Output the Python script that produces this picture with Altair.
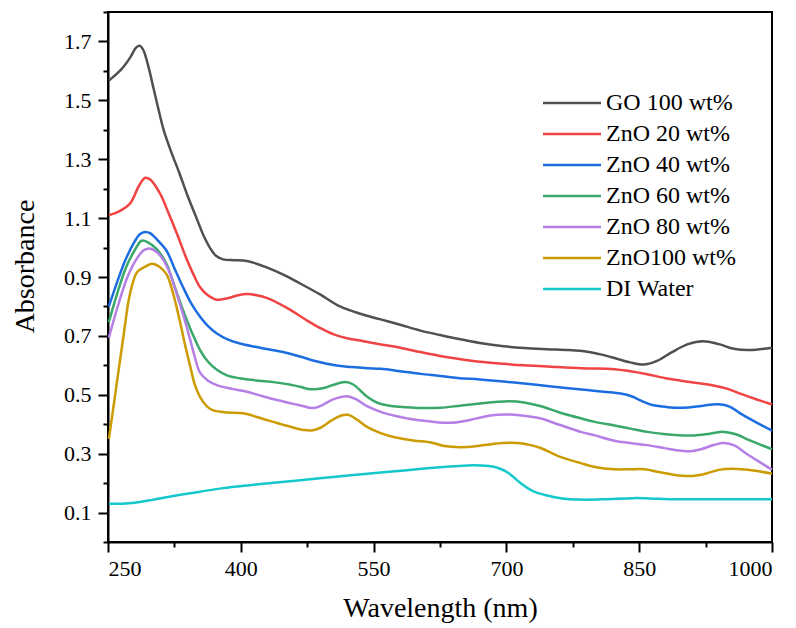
import altair as alt
import pandas as pd

# UV-Vis absorbance spectra of GO / ZnO nanofluids and the DI water base fluid
series_names = ["GO 100 wt%", "ZnO 20 wt%", "ZnO 40 wt%", "ZnO 60 wt%",
                "ZnO 80 wt%", "ZnO100 wt%", "DI Water"]
series_colors = ["#505050", "#f04444", "#1c6ee0", "#3aa86a",
                 "#b57fe6", "#cc9b00", "#14c8cc"]

go_wl = [251, 265, 275, 282, 286, 290, 296, 301, 307, 313, 322, 331, 340, 350,
         358, 365, 372, 380, 392, 403, 415, 430, 448, 467, 490, 512, 535, 558,
         580, 603, 625, 645, 670, 697, 720, 746, 770, 788, 805, 822, 840, 856,
         870, 886, 905, 922, 940, 957, 975, 1000]
go_abs = [1.567, 1.605, 1.645, 1.68, 1.685, 1.67, 1.61, 1.546, 1.47, 1.398,
          1.32, 1.25, 1.175, 1.10, 1.04, 1.0, 0.972, 0.96, 0.957, 0.956, 0.948,
          0.932, 0.908, 0.878, 0.84, 0.80, 0.775, 0.756, 0.738, 0.718, 0.703,
          0.69, 0.676, 0.665, 0.659, 0.655, 0.652, 0.648, 0.638, 0.625, 0.61,
          0.603, 0.615, 0.643, 0.672, 0.682, 0.672, 0.656, 0.652, 0.66]

zn20_wl = [251, 262, 275, 285, 292, 298, 309, 318, 328, 337, 346.5, 354, 362,
           373, 385, 397, 407, 418, 430, 452, 475, 490, 505, 520, 535, 558, 580,
           603, 625, 645, 670, 697, 720, 746, 785, 822, 840, 859, 880, 897, 915,
           935, 950, 965, 982, 1000]
zn20_abs = [1.11, 1.122, 1.15, 1.21, 1.237, 1.23, 1.182, 1.12, 1.046, 0.975,
            0.909, 0.865, 0.84, 0.823, 0.828, 0.838, 0.842, 0.838, 0.828, 0.795,
            0.752, 0.726, 0.705, 0.692, 0.684, 0.671, 0.66, 0.645, 0.632, 0.622,
            0.612, 0.605, 0.6, 0.596, 0.59, 0.587, 0.58, 0.57, 0.556, 0.548,
            0.54, 0.531, 0.52, 0.503, 0.485, 0.467]

zn40_wl = [251, 260, 270, 280, 286, 292, 298, 306, 316, 325, 335, 345, 354, 363,
           373, 385, 399, 418, 437, 452, 467, 485, 505, 525, 543, 558, 580, 603,
           625, 645, 670, 697, 720, 746, 770, 791, 810, 829, 842, 852, 865, 882,
           900, 915, 930, 940, 952, 965, 980, 1000]
zn40_abs = [0.80, 0.88, 0.96, 1.02, 1.045, 1.053, 1.048, 1.025, 0.99, 0.93,
            0.864, 0.805, 0.765, 0.733, 0.708, 0.688, 0.674, 0.662, 0.651, 0.642,
            0.63, 0.614, 0.601, 0.594, 0.59, 0.588, 0.58, 0.571, 0.564, 0.557,
            0.552, 0.545, 0.538, 0.53, 0.522, 0.516, 0.51, 0.504, 0.494, 0.48,
            0.465, 0.458, 0.456, 0.46, 0.466, 0.468, 0.46, 0.435, 0.41, 0.378]

zn60_wl = [251, 260, 270, 280, 288, 295, 305, 316, 325, 335, 345, 354, 363, 373,
           385, 399, 420, 437, 455, 467, 476, 484, 495, 505, 518, 527, 542, 555,
           570, 588, 605, 625, 648, 670, 690, 703, 720, 738, 760, 784, 800, 822,
           840, 859, 880, 900, 912, 930, 946, 960, 975, 990, 1000]
zn60_abs = [0.747, 0.84, 0.93, 0.99, 1.023, 1.018, 0.995, 0.945, 0.87, 0.786,
            0.71, 0.652, 0.612, 0.585, 0.565, 0.556, 0.548, 0.543, 0.535, 0.527,
            0.52, 0.519, 0.524, 0.534, 0.543, 0.535, 0.495, 0.472, 0.462, 0.458,
            0.455, 0.456, 0.463, 0.47, 0.476, 0.478, 0.474, 0.462, 0.44, 0.42,
            0.408, 0.396, 0.385, 0.374, 0.366, 0.362, 0.362, 0.368, 0.374, 0.365,
            0.345, 0.327, 0.315]

zn80_wl = [251, 262, 272, 282, 290, 297, 305, 312, 320, 330, 339, 347, 354, 363,
           373, 390, 407, 425, 441, 458, 470, 478, 484, 492, 505, 520, 530, 542,
           558, 575, 595, 615, 637, 655, 672, 690, 705, 722, 738, 760, 784, 800,
           822, 840, 859, 880, 895, 908, 920, 935, 946, 958, 972, 988, 1000]
zn80_abs = [0.694, 0.81, 0.9, 0.96, 0.99, 0.997, 0.985, 0.96, 0.912, 0.82, 0.73,
            0.64, 0.575, 0.548, 0.533, 0.52, 0.51, 0.495, 0.482, 0.47, 0.462,
            0.456, 0.456, 0.465, 0.485, 0.495, 0.485, 0.462, 0.442, 0.428, 0.416,
            0.409, 0.405, 0.412, 0.424, 0.432, 0.433, 0.428, 0.42, 0.398, 0.374,
            0.362, 0.344, 0.336, 0.329, 0.318, 0.311, 0.308, 0.315, 0.33, 0.336,
            0.327, 0.298, 0.268, 0.246]

zn100_wl = [251, 256, 263, 268, 273, 278, 283, 292, 300, 308, 316, 323, 331, 337,
            343, 348, 354, 362, 369, 385, 403, 420, 441, 460, 472, 480, 490, 502,
            512, 521, 530, 542, 558, 575, 595, 615, 630, 648, 665, 685, 703, 720,
            738, 760, 784, 800, 822, 840, 856, 875, 895, 910, 925, 940, 955, 970,
            985, 1000]
zn100_abs = [0.35, 0.455, 0.605, 0.71, 0.815, 0.88, 0.917, 0.935, 0.945, 0.935,
             0.91, 0.85, 0.752, 0.67, 0.595, 0.535, 0.492, 0.46, 0.447, 0.44,
             0.437, 0.423, 0.404, 0.388, 0.38, 0.379, 0.388, 0.412, 0.428, 0.432,
             0.418, 0.392, 0.37, 0.355, 0.345, 0.338, 0.326, 0.322, 0.325, 0.333,
             0.337, 0.334, 0.32, 0.29, 0.268, 0.255, 0.247, 0.247, 0.247, 0.236,
             0.226, 0.224, 0.232, 0.245, 0.249, 0.246, 0.24, 0.232]

water_wl = [251, 270, 286, 300, 316, 335, 354, 380, 410, 440, 467, 495, 524, 558,
            585, 614, 640, 663, 680, 690, 702, 716, 730, 746, 765, 784, 810, 844,
            870, 897, 950, 1000]
water_abs = [0.13, 0.131, 0.136, 0.143, 0.152, 0.162, 0.171, 0.183, 0.193, 0.202,
             0.21, 0.218, 0.227, 0.236, 0.243, 0.251, 0.257, 0.261, 0.258, 0.252,
             0.235, 0.2, 0.173, 0.158, 0.147, 0.144, 0.145, 0.149, 0.147, 0.145,
             0.145, 0.145]

x_major = [250, 400, 550, 700, 850, 1000]
x_minor = [325, 475, 625, 775, 925]
y_major = [0.1, 0.3, 0.5, 0.7, 0.9, 1.1, 1.3, 1.5, 1.7]
y_minor = [0.0, 0.2, 0.4, 0.6, 0.8, 1.0, 1.2, 1.4, 1.6, 1.8]

all_wl = [go_wl, zn20_wl, zn40_wl, zn60_wl, zn80_wl, zn100_wl, water_wl]
all_abs = [go_abs, zn20_abs, zn40_abs, zn60_abs, zn80_abs, zn100_abs, water_abs]

rows = []
for name, wls, vals in zip(series_names, all_wl, all_abs):
    for w, a in zip(wls, vals):
        rows.append({"series": name, "wavelength": w, "absorbance": a})
df = pd.DataFrame(rows)

serif = "Liberation Serif"
x_scale = alt.Scale(domain=[250, 1000], nice=False, zero=False)
y_scale = alt.Scale(domain=[0, 1.8], nice=False, zero=False)

lines = alt.Chart(df).mark_line(strokeWidth=2.5, interpolate="catmull-rom").encode(
    x=alt.X("wavelength:Q", scale=x_scale,
            axis=alt.Axis(values=x_major, orient="bottom", format="d",
                          title="Wavelength (nm)",
                          titleX=332, titleY=74, titleAlign="center",
                          titleBaseline="alphabetic", labelPadding=6)),
    y=alt.Y("absorbance:Q", scale=y_scale,
            axis=alt.Axis(values=y_major, orient="left", format=".1f",
                          title="Absorbance", titleAngle=270, titleX=-75,
                          titleY=254, titleAlign="center",
                          titleBaseline="alphabetic", labelPadding=7)),
    color=alt.Color("series:N",
                    scale=alt.Scale(domain=series_names, range=series_colors),
                    legend=alt.Legend(title=None, orient="none", legendX=433,
                                      legendY=79, symbolType="M-1,0H4.8",
                                      symbolSize=400, symbolStrokeWidth=2.5,
                                      labelFont=serif, labelFontSize=24,
                                      labelColor="black", labelOffset=41,
                                      rowPadding=7, padding=0)),
)

# second, invisible layer that only carries the minor tick marks
minor = alt.Chart(df).mark_line(strokeOpacity=0).encode(
    x=alt.X("wavelength:Q", scale=x_scale,
            axis=alt.Axis(values=x_minor, orient="bottom", labels=False,
                          domain=False, tickSize=5, title=None)),
    y=alt.Y("absorbance:Q", scale=y_scale,
            axis=alt.Axis(values=y_minor, orient="left", labels=False,
                          domain=False, tickSize=5, title=None)),
    detail="series:N",
)

chart = (
    alt.layer(lines, minor)
    .resolve_axis(x="independent", y="independent")
    .properties(width=664, height=530, background="white",
                padding={"left": 108, "top": 12, "right": 24, "bottom": 86},
                autosize=alt.AutoSizeParams(type="none"))
    .configure_view(stroke="black", strokeWidth=2)
    .configure_axis(grid=False, labelFont=serif, labelFontSize=22,
                    labelColor="black", titleFont=serif, titleFontSize=28,
                    titleFontWeight="normal", titleColor="black",
                    domainColor="black", domainWidth=2, tickColor="black",
                    tickWidth=2, tickSize=10)
)

chart.save("out.html", embed_options={"renderer": "svg", "actions": False})
